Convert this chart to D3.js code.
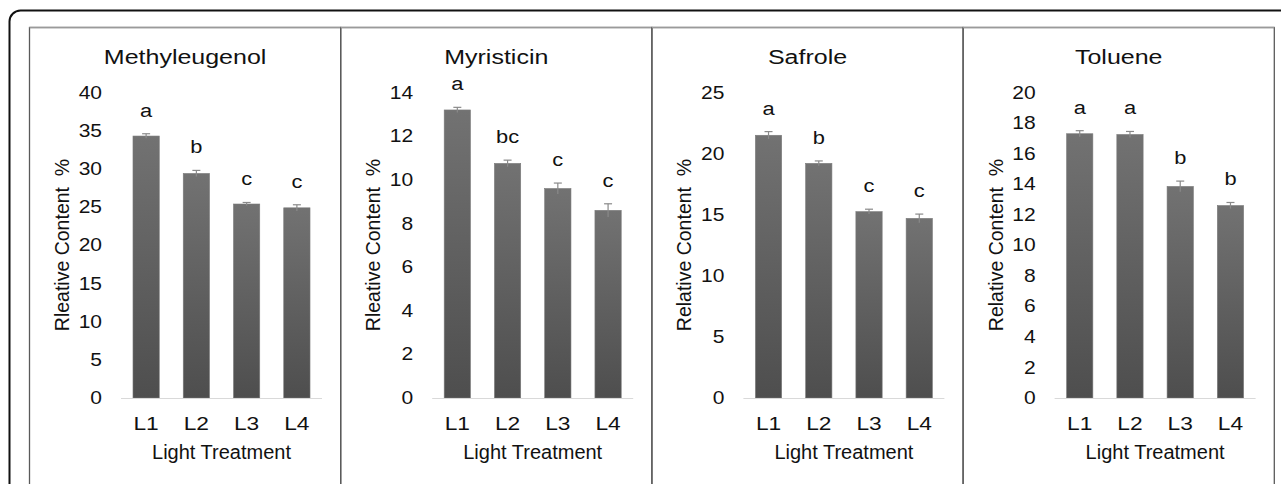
<!DOCTYPE html>
<html>
<head>
  <meta charset="utf-8">
  <style>
    body { margin: 0; background: #fff; }
    svg text { font-family: "Liberation Sans", Arial, sans-serif; fill: #111; }
  </style>
</head>
<body>
<script src="https://d3js.org/d3.v7.min.js"></script>
<script>
  // categories and values
  var categories = ["L1", "L2", "L3", "L4"];
  var titles = ["Methyleugenol", "Myristicin", "Safrole", "Toluene"];
  var yTitles = ["Rleative Content  %", "Rleative Content  %", "Relative Content  %", "Relative Content  %"];
  var yMax = [40, 14, 25, 20];
  var yStep = [5, 2, 5, 2];

  var methyleugenol = [34.3, 29.4, 25.4, 24.9];
  var methyleugenolErr = [0.3, 0.4, 0.2, 0.4];
  var methyleugenolLetters = ["a", "b", "c", "c"];

  var myristicin = [13.2, 10.75, 9.6, 8.6];
  var myristicinErr = [0.12, 0.15, 0.25, 0.3];
  var myristicinLetters = ["a", "bc", "c", "c"];

  var safrole = [21.5, 19.2, 15.25, 14.7];
  var safroleErr = [0.3, 0.2, 0.2, 0.35];
  var safroleLetters = ["a", "b", "c", "c"];

  var toluene = [17.3, 17.25, 13.85, 12.6];
  var tolueneErr = [0.2, 0.2, 0.35, 0.2];
  var tolueneLetters = ["a", "a", "b", "b"];

  var values = [methyleugenol, myristicin, safrole, toluene];
  var errors = [methyleugenolErr, myristicinErr, safroleErr, tolueneErr];
  var letters = [methyleugenolLetters, myristicinLetters, safroleLetters, tolueneLetters];

  var W = 1281, H = 484;
  var panelLeft = 29.5, panelTop = 27.5, panelW = 311.2;
  var plot = { left: 91.5, right: 292.5, top: 92.5, bottom: 398 };
  var wide = 1.25;   // the reference's horizontal text is drawn a bit stretched

  var svg = d3.select("body").append("svg")
      .attr("width", W)
      .attr("height", H);

  var grad = svg.append("defs").append("linearGradient")
      .attr("id", "barGrad")
      .attr("x1", 0).attr("y1", 0).attr("x2", 0).attr("y2", 1);
  grad.append("stop").attr("offset", "0%").attr("stop-color", "#727272");
  grad.append("stop").attr("offset", "100%").attr("stop-color", "#4e4e4e");

  // outer rounded frame
  svg.append("rect")
      .attr("x", 9.5).attr("y", 10.5)
      .attr("width", 1320).attr("height", 540)
      .attr("rx", 11)
      .style("fill", "none")
      .style("stroke", "#111")
      .style("stroke-width", 2);

  function wideText(sel, x, y, s) {
    return sel.attr("transform", "translate(" + x + "," + y + ") scale(" + s + ",1)");
  }

  titles.forEach(function (title, i) {
    var g = svg.append("g")
        .attr("transform", "translate(" + (panelLeft + i * panelW) + ",0)");

    // panel box
    g.append("rect")
        .attr("x", 0).attr("y", panelTop)
        .attr("width", panelW).attr("height", 500)
        .style("fill", "none")
        .style("stroke", "#5a5a5a")
        .style("stroke-width", 1.3);
    g.append("line")
        .attr("x1", 0).attr("x2", panelW)
        .attr("y1", panelTop).attr("y2", panelTop)
        .style("stroke", "#9a9a9a")
        .style("stroke-width", 1.3);

    var x = d3.scaleBand()
        .domain(categories)
        .range([plot.left, plot.right])
        .paddingInner(0.477)
        .paddingOuter(0.2385);

    var y = d3.scaleLinear()
        .domain([0, yMax[i]])
        .range([plot.bottom, plot.top]);

    // y axis (labels only)
    var yAxis = d3.axisLeft(y)
        .tickValues(d3.range(0, yMax[i] + yStep[i] / 2, yStep[i]))
        .tickSize(0)
        .tickPadding(19);

    g.append("g")
        .attr("transform", "translate(" + plot.left + ",0)")
        .call(yAxis)
        .call(function (a) { a.select(".domain").remove(); })
        .selectAll("text")
        .attr("x", -19 / 1.2)
        .attr("transform", "scale(1.2,1)")
        .style("font-size", "17.5px")
        .style("font-family", "'Liberation Sans', Arial, sans-serif")
        .style("fill", "#111");

    // x axis
    var xAxis = d3.axisBottom(x)
        .tickSize(0)
        .tickPadding(20);

    g.append("g")
        .attr("transform", "translate(0," + plot.bottom + ")")
        .call(xAxis)
        .call(function (a) { a.select(".domain").remove(); })
        .selectAll("text")
        .attr("transform", "scale(1.3,1)")
        .attr("x", 0)
        .style("font-size", "17.5px")
        .style("font-family", "'Liberation Sans', Arial, sans-serif")
        .style("fill", "#111");

    // bars
    var data = categories.map(function (c, j) {
      return { cat: c, v: values[i][j], e: errors[i][j], l: letters[i][j] };
    });

    g.selectAll("rect.bar")
        .data(data)
      .enter().append("rect")
        .attr("class", "bar")
        .attr("x", function (d) { return x(d.cat); })
        .attr("y", function (d) { return y(d.v); })
        .attr("width", x.bandwidth())
        .attr("height", function (d) { return y(0) - y(d.v); })
        .style("fill", "url(#barGrad)")
        .style("stroke", "#7a7a7a")
        .style("stroke-width", 0.6);

    // baseline
    g.append("line")
        .attr("x1", plot.left).attr("x2", plot.right)
        .attr("y1", y(0) + 0.5).attr("y2", y(0) + 0.5)
        .style("stroke", "#d9d9d9")
        .style("stroke-width", 1);

    // error bars
    var eb = g.selectAll("g.err")
        .data(data)
      .enter().append("g")
        .attr("class", "err")
        .attr("transform", function (d) { return "translate(" + (x(d.cat) + x.bandwidth() / 2) + ",0)"; });

    eb.append("line")
        .attr("y1", function (d) { return y(d.v - d.e); })
        .attr("y2", function (d) { return y(d.v + d.e); })
        .style("stroke", "#8a8a8a")
        .style("stroke-width", 1.2);

    eb.append("line")
        .attr("x1", -4).attr("x2", 4)
        .attr("y1", function (d) { return y(d.v + d.e); })
        .attr("y2", function (d) { return y(d.v + d.e); })
        .style("stroke", "#8a8a8a")
        .style("stroke-width", 1.2);

    // significance letters
    g.selectAll("text.letter")
        .data(data)
      .enter().append("text")
        .attr("class", "letter")
        .attr("transform", function (d) {
          return "translate(" + (x(d.cat) + x.bandwidth() / 2) + "," + (y(d.v + d.e) - 17) + ") scale(1.15,1)";
        })
        .attr("text-anchor", "middle")
        .style("font-size", "19px")
        .text(function (d) { return d.l; });

    // panel title
    wideText(g.append("text"), panelW / 2, 64, wide)
        .attr("text-anchor", "middle")
        .style("font-size", "20px")
        .text(title);

    // y title
    g.append("text")
        .attr("transform", "translate(32.5,245) rotate(-90)")
        .attr("text-anchor", "middle")
        .attr("dominant-baseline", "central")
        .style("font-size", "19.5px")
        .style("white-space", "pre")
        .text(yTitles[i]);

    // x title
    g.append("text")
        .attr("x", (plot.left + plot.right) / 2)
        .attr("y", 459)
        .attr("text-anchor", "middle")
        .style("font-size", "20px")
        .text("Light Treatment");
  });
</script>
</body>
</html>
